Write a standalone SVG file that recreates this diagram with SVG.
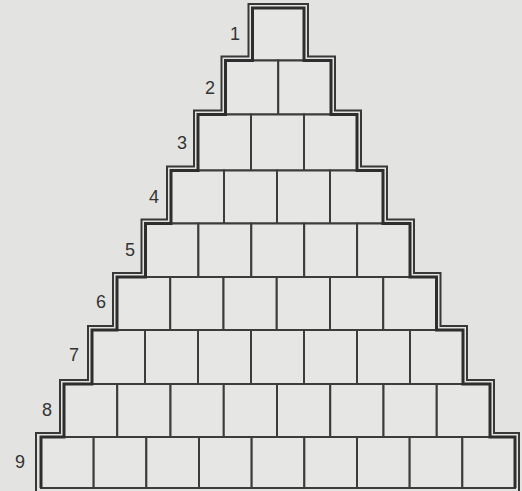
<svg xmlns="http://www.w3.org/2000/svg" width="522" height="491" viewBox="0 0 522 491">
<style>
.sq{fill:#e6e6e4;stroke:#3c3c3c;stroke-width:2}
.edge{fill:none;stroke:#2e2e2e;stroke-width:3;stroke-linejoin:miter}
.outer{fill:none;stroke:#383838;stroke-width:2;stroke-linejoin:miter}
.num{font-family:"Liberation Sans",Arial,sans-serif;font-size:18px;fill:#333;text-anchor:middle}
</style>
<rect width="522" height="491" fill="#e3e3e1"/>
<g id="row1">
<rect id="s1-1" class="sq" x="252.5" y="8" width="51.5" height="52.5"/>
<text class="num" x="235" y="40">1</text>
</g>
<g id="row2">
<rect id="s2-1" class="sq" x="225.5" y="60.5" width="52.75" height="54"/>
<rect id="s2-2" class="sq" x="278.25" y="60.5" width="52.75" height="54"/>
<text class="num" x="210" y="94">2</text>
</g>
<g id="row3">
<rect id="s3-1" class="sq" x="198" y="114.5" width="53" height="56"/>
<rect id="s3-2" class="sq" x="251" y="114.5" width="53" height="56"/>
<rect id="s3-3" class="sq" x="304" y="114.5" width="53" height="56"/>
<text class="num" x="182" y="149">3</text>
</g>
<g id="row4">
<rect id="s4-1" class="sq" x="171" y="170.5" width="53" height="53"/>
<rect id="s4-2" class="sq" x="224" y="170.5" width="53" height="53"/>
<rect id="s4-3" class="sq" x="277" y="170.5" width="53" height="53"/>
<rect id="s4-4" class="sq" x="330" y="170.5" width="53" height="53"/>
<text class="num" x="154" y="203">4</text>
</g>
<g id="row5">
<rect id="s5-1" class="sq" x="145.5" y="223.5" width="52.9" height="53.5"/>
<rect id="s5-2" class="sq" x="198.4" y="223.5" width="52.9" height="53.5"/>
<rect id="s5-3" class="sq" x="251.3" y="223.5" width="52.9" height="53.5"/>
<rect id="s5-4" class="sq" x="304.2" y="223.5" width="52.9" height="53.5"/>
<rect id="s5-5" class="sq" x="357.1" y="223.5" width="52.9" height="53.5"/>
<text class="num" x="130" y="256">5</text>
</g>
<g id="row6">
<rect id="s6-1" class="sq" x="117" y="277" width="53.25" height="53"/>
<rect id="s6-2" class="sq" x="170.25" y="277" width="53.25" height="53"/>
<rect id="s6-3" class="sq" x="223.5" y="277" width="53.25" height="53"/>
<rect id="s6-4" class="sq" x="276.75" y="277" width="53.25" height="53"/>
<rect id="s6-5" class="sq" x="330" y="277" width="53.25" height="53"/>
<rect id="s6-6" class="sq" x="383.25" y="277" width="53.25" height="53"/>
<text class="num" x="101" y="308">6</text>
</g>
<g id="row7">
<rect id="s7-1" class="sq" x="92" y="330" width="53" height="54"/>
<rect id="s7-2" class="sq" x="145" y="330" width="53" height="54"/>
<rect id="s7-3" class="sq" x="198" y="330" width="53" height="54"/>
<rect id="s7-4" class="sq" x="251" y="330" width="53" height="54"/>
<rect id="s7-5" class="sq" x="304" y="330" width="53" height="54"/>
<rect id="s7-6" class="sq" x="357" y="330" width="53" height="54"/>
<rect id="s7-7" class="sq" x="410" y="330" width="53" height="54"/>
<text class="num" x="74" y="361">7</text>
</g>
<g id="row8">
<rect id="s8-1" class="sq" x="64" y="384" width="53.25" height="53"/>
<rect id="s8-2" class="sq" x="117.25" y="384" width="53.25" height="53"/>
<rect id="s8-3" class="sq" x="170.5" y="384" width="53.25" height="53"/>
<rect id="s8-4" class="sq" x="223.75" y="384" width="53.25" height="53"/>
<rect id="s8-5" class="sq" x="277" y="384" width="53.25" height="53"/>
<rect id="s8-6" class="sq" x="330.25" y="384" width="53.25" height="53"/>
<rect id="s8-7" class="sq" x="383.5" y="384" width="53.25" height="53"/>
<rect id="s8-8" class="sq" x="436.75" y="384" width="53.25" height="53"/>
<text class="num" x="47" y="416">8</text>
</g>
<g id="row9">
<rect id="s9-1" class="sq" x="41" y="437" width="52.67" height="51"/>
<rect id="s9-2" class="sq" x="93.67" y="437" width="52.67" height="51"/>
<rect id="s9-3" class="sq" x="146.33" y="437" width="52.67" height="51"/>
<rect id="s9-4" class="sq" x="199" y="437" width="52.67" height="51"/>
<rect id="s9-5" class="sq" x="251.67" y="437" width="52.67" height="51"/>
<rect id="s9-6" class="sq" x="304.33" y="437" width="52.67" height="51"/>
<rect id="s9-7" class="sq" x="357" y="437" width="52.67" height="51"/>
<rect id="s9-8" class="sq" x="409.67" y="437" width="52.67" height="51"/>
<rect id="s9-9" class="sq" x="462.33" y="437" width="52.67" height="51"/>
<text class="num" x="20" y="468">9</text>
</g>
<g id="connectors">
<path class="edge" d="M41,488 V437 H64 V384 H92 V330 H117 V277 H145.5 V223.5 H171 V170.5 H198 V114.5 H225.5 V60.5 H252.5 V8 H304 V60.5 H331 V114.5 H357 V170.5 H383 V223.5 H410 V277 H436.5 V330 H463 V384 H490 V437 H515 V488"/>
<path class="outer" d="M36,491 V433 H60 V380 H88 V326 H113 V273 H141.5 V219.5 H167 V166.5 H194 V110.5 H221.5 V56.5 H248.5 V4 H308 V56.5 H335 V110.5 H361 V166.5 H387 V219.5 H414 V273 H440.5 V326 H467 V380 H494 V433 H519 V491"/>
</g>
</svg>
